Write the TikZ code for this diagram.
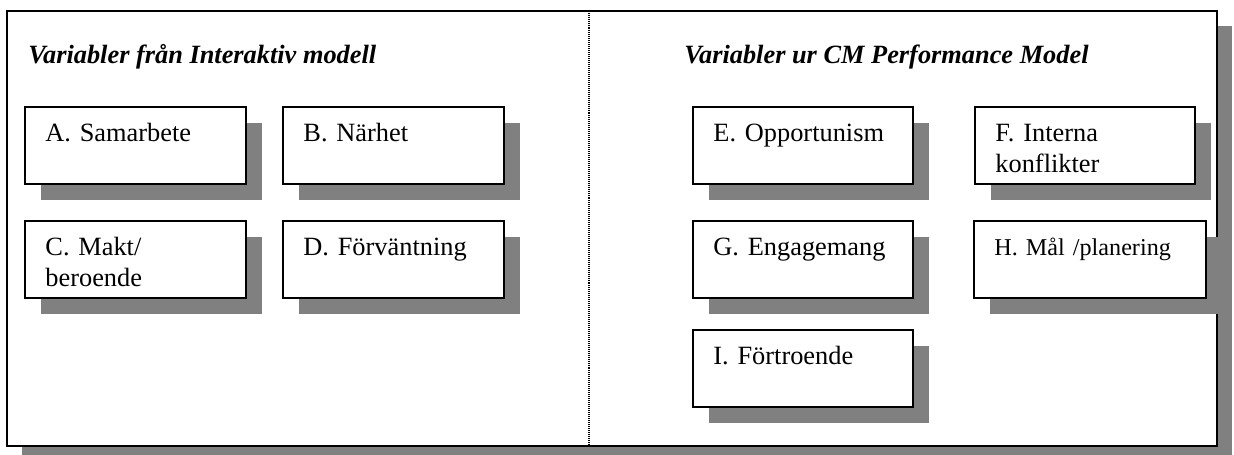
\documentclass[tikz,border=0pt]{standalone}
\usepackage{fontspec}
\setmainfont{Liberation Serif}
\usetikzlibrary{shadows}
\definecolor{shadowgray}{RGB}{128,128,128}
\newcommand*{\titlestyle}{\fontsize{12}{14.1}\selectfont\bfseries\itshape}
\newcommand*{\boxtextstyle}{\fontsize{12}{14.1}\selectfont}
\newcommand*{\smallboxtextstyle}{\fontsize{11}{13}\selectfont}
\newcommand{\varbox}[6][\boxtextstyle]{%
   % font, name, left, top, width (px), text
   \node[varbox, minimum width=#5*0.4553pt, anchor=north west] (#2) at (#3,#4) {};
   \node[vartext, font=#1, anchor=base west] (#2text)
      at ([shift={(21,35.7)}]#2.north west) {#6};
}

\begin{document}
\begin{tikzpicture}[x=0.4553pt, y=-0.4553pt,
   varbox/.style={draw=black, line width=0.8pt, fill=white,
      minimum height=77*0.4553pt, inner sep=0pt,
      drop shadow={shadow xshift=7.3pt, shadow yshift=-7.3pt,
         opacity=1, fill=shadowgray}},
   vartext/.style={inner sep=0pt, text width=180*0.4553pt, align=left},
   titletext/.style={inner sep=0pt, font=\titlestyle}]

    \useasboundingbox (0,0) rectangle (1234,454);

    % outer frame
    \draw[line width=0.9pt, fill=white,
       drop shadow={shadow xshift=6.8pt, shadow yshift=-6.8pt,
          opacity=1, fill=shadowgray}]
       (7,10.7) rectangle (1217,446);
    \draw[line width=0.6pt, dash pattern=on 0.45pt off 0.45pt]
       (589,10.7) -- (589,446);

    % interaktiv modell
    \node[titletext, anchor=base west] (lefttitle) at (28,63)
       {Variabler från Interaktiv modell};

    \varbox{a}{24}{106}{221}{A. Samarbete}
    \varbox{b}{282}{106}{221}{B. Närhet}
    \varbox{c}{24}{220}{221}{C. Makt/\\ beroende}
    \varbox{d}{282}{220}{221}{D. Förväntning}

    % cm performance model
    \node[titletext, anchor=base west] (righttitle) at (684,63)
       {Variabler ur CM Performance Model};

    \varbox{e}{692}{106}{220}{E. Opportunism}
    \varbox{f}{974}{106}{220}{F. Interna\\ konflikter}
    \varbox{g}{692}{220}{220}{G. Engagemang}
    \varbox[\smallboxtextstyle]{h}{973}{220}{232}{H. Mål /planering}
    \varbox{i}{692}{329}{220}{I. Förtroende}

\end{tikzpicture}
\end{document}
